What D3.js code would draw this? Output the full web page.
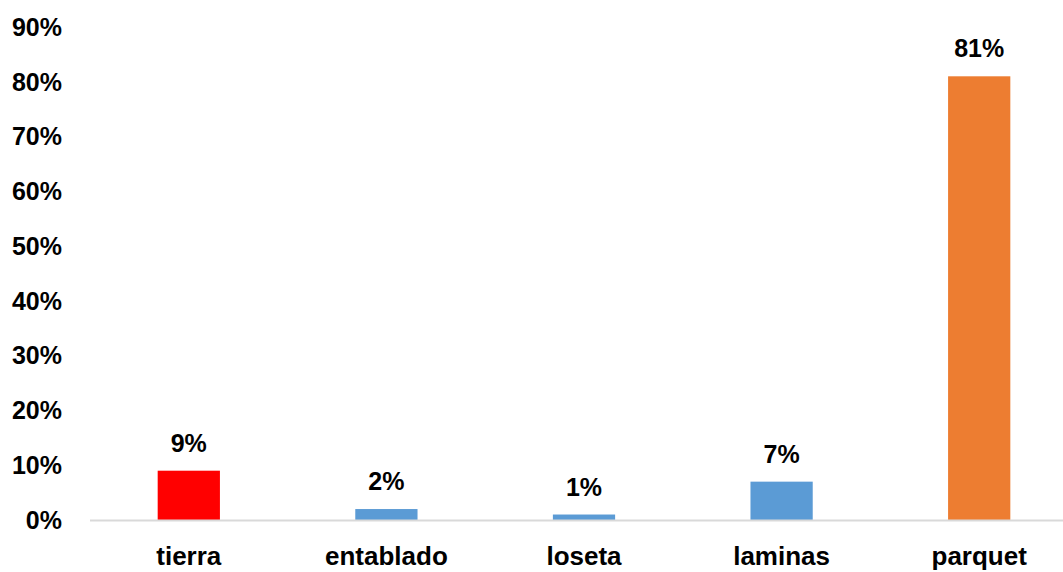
<!DOCTYPE html>
<html>
<head>
<meta charset="utf-8">
<script src="https://cdn.jsdelivr.net/npm/d3@7"></script>
<style>
  body { margin: 0; background: #fff; }
  text { font-family: "Liberation Sans", Arial, sans-serif; font-weight: bold; fill: #000; }
</style>
</head>
<body>
<svg id="chart" width="1063" height="572"></svg>
<script>
var categories = ["tierra", "entablado", "loseta", "laminas", "parquet"];
var values = [0.09, 0.02, 0.01, 0.07, 0.81];
var colors = ["#ff0000", "#5b9bd5", "#5b9bd5", "#5b9bd5", "#ed7d31"];
var yTicks = [0, 0.1, 0.2, 0.3, 0.4, 0.5, 0.6, 0.7, 0.8, 0.9];

var svg = d3.select("#chart");
var plotLeft = 90, plotRight = 1078, plotTop = 27, plotBottom = 520;

var x = d3.scaleBand().domain(categories).range([plotLeft, plotRight]).paddingInner(0.685).paddingOuter(0.3425);
var y = d3.scaleLinear().domain([0, 0.9]).range([plotBottom, plotTop]);
var fmt = d3.format(".0%");

// y axis labels
svg.append("g").selectAll("text").data(yTicks).enter().append("text")
    .attr("x", 62)
    .attr("y", function (d) { return y(d); })
    .attr("dy", "0.35em")
    .attr("text-anchor", "end")
    .attr("font-size", "25px")
    .text(function (d) { return fmt(d); });

// bars
svg.append("g").selectAll("rect").data(values).enter().append("rect")
    .attr("x", function (d, i) { return x(categories[i]); })
    .attr("y", function (d) { return y(d); })
    .attr("width", x.bandwidth())
    .attr("height", function (d) { return plotBottom - y(d); })
    .attr("fill", function (d, i) { return colors[i]; });

// baseline
svg.append("line")
    .attr("x1", plotLeft).attr("x2", 1063)
    .attr("y1", plotBottom + 0.5).attr("y2", plotBottom + 0.5)
    .attr("stroke", "#d9d9d9").attr("stroke-width", 2);

// value labels
svg.append("g").selectAll("text").data(values).enter().append("text")
    .attr("x", function (d, i) { return x(categories[i]) + x.bandwidth() / 2; })
    .attr("y", function (d) { return y(d) - 19; })
    .attr("text-anchor", "middle")
    .attr("font-size", "25px")
    .text(function (d) { return fmt(d); });

// category labels
svg.append("g").selectAll("text").data(categories).enter().append("text")
    .attr("x", function (d) { return x(d) + x.bandwidth() / 2; })
    .attr("y", 565)
    .attr("text-anchor", "middle")
    .attr("font-size", "26px")
    .text(function (d) { return d; });
</script>
</body>
</html>
